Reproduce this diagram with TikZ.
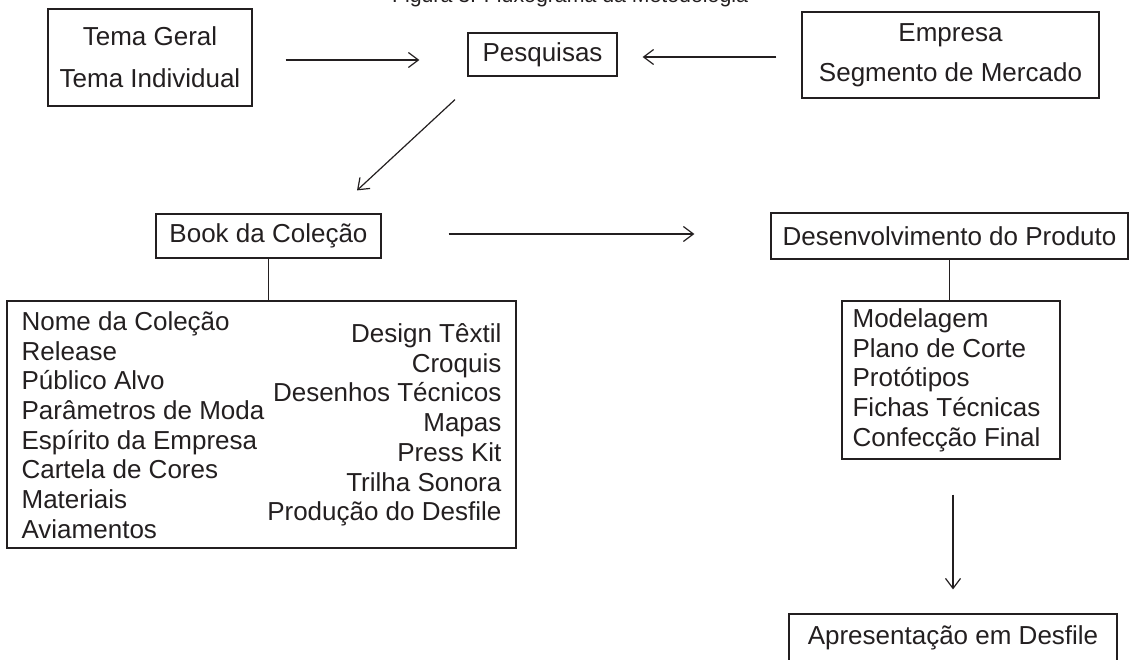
\documentclass[tikz,border=0pt]{standalone}
\usepackage{fontspec}
\setmainfont{Liberation Sans}
\usetikzlibrary{arrows.meta,calc}
\definecolor{tinta}{RGB}{35,31,32}
\begin{document}
\begin{tikzpicture}[x=1pt, y=-1pt, tinta, line width=1.2pt,
    caixa/.style={draw, inner sep=0pt, align=center},
    seta/.style={-{Straight Barb[length=10pt,width=15pt]}},
    font=\fontsize{26}{29.7}\selectfont]
  \useasboundingbox (0,0) rectangle (1130,659);
  \clip (0,0) rectangle (1130,659);
  \node[anchor=base, font=\fontsize{21.3}{24}\selectfont] (titulo) at (570,2.5) {Figura 3: Fluxograma da Metodologia};

  \node[caixa, minimum width=204pt, minimum height=97pt] (tema) at (150,57.5) {Tema Geral\\[12.3pt]Tema Individual};
  \node[caixa, minimum width=149pt, minimum height=43pt] (pesq) at (542.5,54.5) {Pesquisas};
  \node[caixa, minimum width=297pt, minimum height=86pt] (emp) at (950.5,55) {Empresa\\[10.3pt]Segmento de Mercado};
  \node[caixa, minimum width=225pt, minimum height=44pt] (book) at (268.5,236) {Book da Coleção};
  \node[caixa, minimum width=357pt, minimum height=46pt] (desenv) at (949.5,236) {Desenvolvimento do Produto};
  \node[caixa, minimum width=509pt, minimum height=247pt] (lista) at (261.5,424.5) {};
  \node[caixa, minimum width=218pt, minimum height=158pt] (prod) at (951,380) {};
  \node[caixa, minimum width=328pt, minimum height=48pt] (apres) at (953,638) {Apresentação em Desfile};

  \node[anchor=north west, align=left, inner sep=0pt] (col1) at (21,311) {Nome da Coleção\\Release\\Público Alvo\\Parâmetros de Moda\\Espírito da Empresa\\Cartela de Cores\\Materiais\\Aviamentos};
  \node[anchor=north east, align=right, inner sep=0pt] (col2) at (502,323) {Design Têxtil\\Croquis\\Desenhos Técnicos\\Mapas\\Press Kit\\Trilha Sonora\\Produção do Desfile};
  \node[anchor=north west, align=left, inner sep=0pt] (etapas) at (852,308) {Modelagem\\Plano de Corte\\Protótipos\\Fichas Técnicas\\Confecção Final};

  \draw[seta] ($(tema.east)+(33,2.5)$) -- ($(pesq.west)+(-48,5.5)$);
  \draw[seta] ($(emp.west)+(-25,2)$) -- ($(pesq.east)+(25,2.5)$);
  \draw[seta] ($(pesq.south)+(-87.5,23)$) -- ($(book.north)+(88.5,-23)$);
  \draw[seta] ($(book.east)+(67,-2)$) -- ($(desenv.west)+(-76,-2)$);
  \draw (book.south) -- (book.south |- lista.north);
  \draw (desenv.south) -- (desenv.south |- prod.north);
  \draw[seta] ($(prod.south)+(2,35)$) -- ($(apres.north)+(0,-24)$);
\end{tikzpicture}
\end{document}
